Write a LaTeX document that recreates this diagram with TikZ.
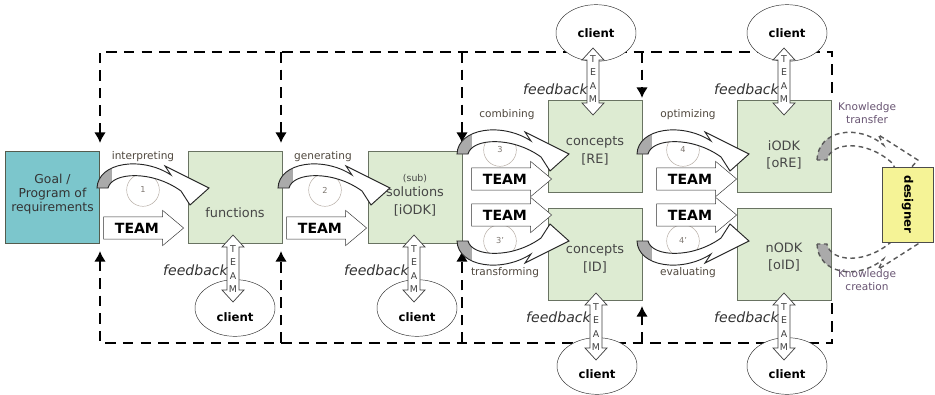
\documentclass[tikz,border=0pt]{standalone}
\usepackage{fontspec}
\setmainfont{DejaVu Sans}
\usetikzlibrary{arrows.meta,shapes.geometric,shapes.arrows}

\definecolor{boxgreen}{RGB}{221,235,210}
\definecolor{boxedge}{RGB}{105,115,98}
\definecolor{goalblue}{RGB}{124,198,204}
\definecolor{designyellow}{RGB}{245,243,150}
\definecolor{labelgrey}{RGB}{70,70,70}
\definecolor{verbbrown}{RGB}{80,72,62}
\definecolor{knowpurple}{RGB}{105,85,115}
\definecolor{circlegrey}{RGB}{180,170,162}
\definecolor{backgrey}{RGB}{170,170,170}

% curved process arrow: scope options, inner fill, outline style
\newcommand{\bendarrow}[3]{%
  \begin{scope}[#1]
    \path[fill=#2, bendshape];
    \begin{scope}
      \clip[bendshape];
      \fill[backgrey] (-5,6) rectangle (15,-19);
    \end{scope}
    \draw[#3, bendshape];
  \end{scope}}

% hollow double arrow between box and client: x, top tip, bottom tip
\newcommand{\teamlink}[3]{%
  \draw[linkarrow] (#1,#2) -- ++(11,12) -- ++(-5,0) -- (#1+6,#3-12) -- ++(5,0)
    -- (#1,#3) -- ++(-11,-12) -- ++(5,0) -- (#1-6,#2+12) -- ++(-5,0) -- cycle;}

\begin{document}
\begin{tikzpicture}[x=0.03cm, y=-0.03cm,
  box/.style={draw=boxedge, fill=boxgreen, minimum width=2.82cm, minimum height=2.76cm, inner sep=0pt},
  boxtext/.style={text=labelgrey, align=center, font=\fontsize{11}{15}\selectfont},
  client/.style={ellipse, draw=black!80, fill=white, minimum width=2.4cm, minimum height=1.7cm, inner sep=0pt},
  clienttext/.style={font=\bfseries\fontsize{10}{12}\selectfont},
  fbtext/.style={font=\itshape\fontsize{12}{14}\selectfont, text=black!80, anchor=east, inner sep=0pt},
  linkletters/.style={align=center, font=\fontsize{8}{11.5}\selectfont, text=black!75, inner sep=0pt},
  linkarrow/.style={draw=black!75, fill=white, line width=0.6pt},
  teamarrow/.style={single arrow, draw=black!80, fill=white, minimum height=2.4cm,
    single arrow head extend=5.5pt, single arrow tip angle=80, inner ysep=5pt,
    font=\bfseries\fontsize{12}{14}\selectfont, anchor=tip},
  verb/.style={text=verbbrown, font=\fontsize{9}{10}\selectfont},
  knowtext/.style={text=knowpurple, align=center, font=\fontsize{9}{11}\selectfont},
  numcircle/.style={circle, draw=circlegrey, minimum size=0.98cm, inner sep=0pt,
    text=circlegrey!70!black, font=\fontsize{7}{8}\selectfont},
  loopline/.style={line width=2pt, dash pattern=on 9pt off 6pt},
  knowline/.style={draw=black!65, line width=1.2pt, dash pattern=on 4pt off 3pt},
  bendline/.style={draw=black!85, line width=0.8pt},
  bendshape/.style={insert path={(0,0) .. controls (1,-26) and (45,-32) .. (74,-13)
    -- (68,-22) -- (112,0) -- (93,17) -- (84,3) .. controls (55,-18) and (15,-16) .. (11,0) -- cycle}}]

\path[use as bounding box, fill=white] (0,0) rectangle (935,394);

% feedback loops
\draw[loopline, {Latex[length=9pt,width=10pt]}-] (100,143) -- (100,52) -- (832,52) -- (832,99);
\foreach \x/\y in {281/143, 462/143, 642/98}
  \draw[loopline, -{Latex[length=9pt,width=10pt]}] (\x,52) -- (\x,\y);
\draw[loopline, {Latex[length=9pt,width=10pt]}-] (100,251) -- (100,343) -- (832,343) -- (832,302);
\foreach \x/\y in {281/251, 462/251, 642/306}
  \draw[loopline, -{Latex[length=9pt,width=10pt]}] (\x,343) -- (\x,\y);

% process boxes
\node[box, draw=boxedge!80!black, fill=goalblue] (goal) at (52.5,197.5) {};
\node[box] (func) at (235,197.5) {};
\node[box] (sol) at (415,197.5) {};
\node[box] (conre) at (595,146.5) {};
\node[box] (conid) at (595,254.5) {};
\node[box] (iodk) at (784.5,146.5) {};
\node[box] (nodk) at (784.5,254.5) {};

% clients
\node[client] (cl1) at (235,308) {};
\node[client] (cl2) at (417,308) {};
\node[client] (cl3) at (596,33) {};
\node[client] (cl4) at (597,366) {};
\node[client] (cl5) at (787,33) {};
\node[client] (cl6) at (787,366) {};
\node[clienttext] (cl1t) at (235,317) {client};
\node[clienttext] (cl2t) at (417,317) {client};
\node[clienttext] (cl3t) at (596,33) {client};
\node[clienttext] (cl4t) at (597,374) {client};
\node[clienttext] (cl5t) at (787,33) {client};
\node[clienttext] (cl6t) at (787,374) {client};

% team links to the clients
\teamlink{233}{235}{302}
\teamlink{414}{235}{302}
\teamlink{593}{48}{115}
\teamlink{596}{293}{360}
\teamlink{784}{48}{115}
\teamlink{784}{293}{360}
\foreach \x/\y/\n in {233/269/l1, 414/269/l2, 593/79/l3, 596/327/l4, 784/79/l5, 784/327/l6}
  \node[linkletters] (\n) at (\x,\y) {T\\E\\A\\M};

\node[fbtext] (fb1) at (228,270) {feedback};
\node[fbtext] (fb2) at (409,270) {feedback};
\node[fbtext] (fb3) at (588,89) {feedback};
\node[fbtext] (fb4) at (591,317) {feedback};
\node[fbtext] (fb5) at (779,89) {feedback};
\node[fbtext] (fb6) at (779,317) {feedback};

% step numbers
\node[numcircle] (n1) at (143,190) {1};
\node[numcircle] (n2) at (325,190) {2};
\node[numcircle] (n3) at (500,150) {3};
\node[numcircle] (n3b) at (500,241) {3'};
\node[numcircle] (n4) at (683,150) {4};
\node[numcircle] (n4b) at (683,241) {4'};

% curved process arrows
\bendarrow{shift={(97,188)}}{white}{bendline}
\bendarrow{shift={(278,188)}}{white}{bendline}
\bendarrow{shift={(457,154)}}{white}{bendline}
\bendarrow{shift={(457,241)}, yscale=-1}{white}{bendline}
\bendarrow{shift={(637,154)}}{white}{bendline}
\bendarrow{shift={(637,241)}, yscale=-1}{white}{bendline}
\bendarrow{shift={(817,160)}, xscale=0.9, yscale=1.15}{none}{knowline}
\bendarrow{shift={(817,244)}, xscale=0.9, yscale=-1.15}{none}{knowline}

\node[draw=black!70, fill=designyellow, minimum width=2.25cm, minimum height=1.53cm, rotate=-90,
  font=\bfseries\fontsize{10}{12}\selectfont] (designer) at (907.5,204.5) {designer};

% team input arrows
\node[teamarrow] (t1) at (184,228) {TEAM};
\node[teamarrow] (t2) at (367,228) {TEAM};
\node[teamarrow] (t3) at (552,179) {TEAM};
\node[teamarrow] (t3b) at (552,215) {TEAM};
\node[teamarrow] (t4) at (737,179) {TEAM};
\node[teamarrow] (t4b) at (737,215) {TEAM};

% activity labels
\node[verb] (v1) at (143,157) {interpreting};
\node[verb] (v2) at (323,157) {generating};
\node[verb] (v3) at (507,115) {combining};
\node[verb] (v4) at (688,115) {optimizing};
\node[verb] (v3b) at (505,273) {transforming};
\node[verb] (v4b) at (688,273) {evaluating};
\node[knowtext] (k1) at (867,113) {Knowledge\\transfer};
\node[knowtext] (k2) at (867,280) {Knowledge\\creation};

% box contents
\node[boxtext, text=black!80, font=\fontsize{10.5}{12}\selectfont] (goalt) at (52.5,194) {Goal /\\Program of\\requirements};
\node[boxtext] (funct) at (235,213) {functions};
\node[boxtext] (solt) at (415,195) {{\fontsize{8}{9}\selectfont (sub)}\\[-2pt]solutions\\{}[iODK]};
\node[boxtext] (conret) at (595,151) {concepts\\{}[RE]};
\node[boxtext] (conidt) at (595,259) {concepts\\{}[ID]};
\node[boxtext] (iodkt) at (784,155) {iODK\\{}[oRE]};
\node[boxtext] (nodkt) at (784,257) {nODK\\{}[oID]};
\end{tikzpicture}
\end{document}
